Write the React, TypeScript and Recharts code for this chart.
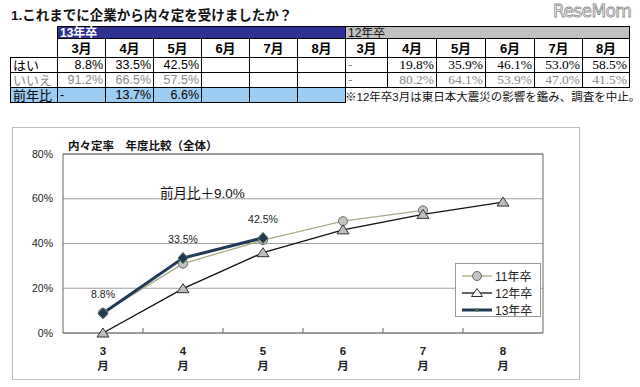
import React from 'react';
import {
  LineChart,
  Line,
  XAxis,
  YAxis,
  CartesianGrid,
  LabelList,
  Legend,
  ReferenceLine,
} from 'recharts';

// chart data (percent)
const months = ['3', '4', '5', '6', '7', '8'];
const rate11 = [9.0, 31.0, 41.5, 50.0, 54.8, null];
const rate12 = [0, 19.8, 35.9, 46.1, 53.0, 58.5];
const rate13 = [8.8, 33.5, 42.5, null, null, null];
const yTicks = [0, 20, 40, 60, 80];

// table
const tableMonths = ['3月', '4月', '5月', '6月', '7月', '8月'];
const yes13 = ['8.8%', '33.5%', '42.5%', '', '', ''];
const no13 = ['91.2%', '66.5%', '57.5%', '', '', ''];
const yoy13 = ['-', '13.7%', '6.6%', '', '', ''];
const yes12 = ['-', '19.8%', '35.9%', '46.1%', '53.0%', '58.5%'];
const no12 = ['-', '80.2%', '64.1%', '53.9%', '47.0%', '41.5%'];

const data = months.map((m, i) => ({
  m,
  y11: rate11[i],
  y12: rate12[i],
  y13: rate13[i],
}));

const SANS = "'Liberation Sans', Arial, 'Noto Sans CJK JP', sans-serif";
const NARROW = "'Liberation Sans Narrow', 'Liberation Sans', 'Noto Sans CJK JP', sans-serif";
const SERIF = "'Liberation Serif', 'Times New Roman', 'Noto Sans CJK JP', serif";
const STEP = 80;
const PLOT_H = 179;

const col13 = [57, 105, 153, 201, 249, 297];
const col12 = [345, 387, 436, 485, 534, 582];
const w12 = [42, 49, 49, 49, 48, 47];

function Cell({ x, y, w, h, children, align = 'center', style = {} }: any) {
  return (
    <div
      style={{
        position: 'absolute',
        left: x,
        top: y,
        width: w + 1,
        height: h + 1,
        boxSizing: 'border-box',
        border: '1px solid #000',
        display: 'flex',
        alignItems: 'center',
        justifyContent: align === 'right' ? 'flex-end' : align === 'left' ? 'flex-start' : 'center',
        padding: '0 2px',
        whiteSpace: 'nowrap',
        lineHeight: 1,
        ...style,
      }}
    >
      {children}
    </div>
  );
}

function CircleDot(props: any) {
  const { cx, cy } = props;
  if (cx == null || cy == null) return <g />;
  return <circle cx={cx} cy={cy} r={4.5} fill="#c4c4c4" stroke="#666" strokeWidth={1} />;
}

function TriangleDot(props: any) {
  const { cx, cy } = props;
  if (cx == null || cy == null) return <g />;
  return (
    <path
      d={`M${cx},${cy - 5}L${cx - 6},${cy + 4}L${cx + 6},${cy + 4}Z`}
      fill="#bdbdbd"
      stroke="#333"
      strokeWidth={1}
    />
  );
}

function DiamondDot(props: any) {
  const { cx, cy } = props;
  if (cx == null || cy == null) return <g />;
  return (
    <path
      d={`M${cx},${cy - 5.5}L${cx + 5},${cy}L${cx},${cy + 5.5}L${cx - 5},${cy}Z`}
      fill="#1f3a52"
      stroke="#4a6a50"
      strokeWidth={1}
    />
  );
}

function MonthTick(props: any) {
  const { x, y, payload } = props;
  const idx = months.indexOf(String(payload.value));
  const isLast = idx === months.length - 1;
  const edge = x + STEP / 2;
  return (
    <g>
      <text x={x} y={y + 22} textAnchor="middle" fontSize={11.5} fontWeight="bold" fill="#222" fontFamily={SANS}>
        {payload.value}
      </text>
      <text x={x} y={y + 37} textAnchor="middle" fontSize={11.5} fontWeight="bold" fill="#222" fontFamily={SANS}>
        月
      </text>
      {/* small tick between months; after the last month it becomes the plot frame's right side */}
      <line x1={edge} x2={edge} y1={y} y2={y - (isLast ? PLOT_H : 5)} stroke="#666" />
    </g>
  );
}

function LegendIcon({ kind, color }: { kind: string; color: string }) {
  const cx = 15;
  const cy = 6;
  return (
    <svg width={30} height={12} style={{ flex: 'none' }}>
      <line x1={0} x2={30} y1={cy} y2={cy} stroke={color} strokeWidth={kind === 'y13' ? 3 : 1.3} />
      {kind === 'y11' && <circle cx={cx} cy={cy} r={4.5} fill="#c4c4c4" stroke="#666" />}
      {kind === 'y12' && (
        <path d={`M${cx},${cy - 4.5}L${cx - 5.5},${cy + 3.5}L${cx + 5.5},${cy + 3.5}Z`} fill="#fff" stroke="#333" />
      )}
      {kind === 'y13' && <circle cx={cx} cy={cy} r={1.8} fill="#4a6a50" />}
    </svg>
  );
}

function LegendBox(props: any) {
  const { payload = [] } = props;
  return (
    <div
      style={{
        width: 86,
        height: 54,
        boxSizing: 'border-box',
        border: '1px solid #999',
        background: '#fff',
        padding: '3px 0 0 6px',
      }}
    >
      {payload.map((p: any) => (
        <div key={p.value} style={{ display: 'flex', alignItems: 'center', height: 17, gap: 3 }}>
          <LegendIcon kind={p.dataKey} color={p.color} />
          <span style={{ fontSize: 12, fontFamily: SANS, color: '#222' }}>{p.value}</span>
        </div>
      ))}
    </div>
  );
}

export default function App() {
  return (
    <div
      style={{
        position: 'absolute',
        left: 0,
        top: 0,
        width: 640,
        height: 387,
        background: '#fff',
        overflow: 'hidden',
        fontFamily: SANS,
      }}
    >
      {/* watermark */}
      <div
        style={{
          position: 'absolute',
          left: 553,
          top: 1,
          fontSize: 17,
          fontFamily: "'DejaVu Sans', sans-serif",
          color: '#fff',
          WebkitTextStroke: '0.8px #8a8a8a',
          letterSpacing: -0.6,
          whiteSpace: 'nowrap',
        }}
      >
        ReseMom
      </div>

      {/* question */}
      <div style={{ position: 'absolute', left: 11, top: 4, fontSize: 13.5, fontWeight: 'bold', color: '#111' }}>
        1.これまでに企業から内々定を受けましたか？
      </div>

      {/* 13年卒 block */}
      <Cell x={57} y={26} w={288} h={12} align="left" style={{ background: '#2e3192', color: '#fff', fontWeight: 'bold', fontSize: 12 }}>
        13年卒
      </Cell>
      {tableMonths.map((t, i) => (
        <Cell key={'m13' + i} x={col13[i]} y={38} w={48} h={19} style={{ fontSize: 13, fontWeight: 'bold' }}>
          {t}
        </Cell>
      ))}
      <Cell x={10} y={57} w={47} h={15} align="left" style={{ fontSize: 13 }}>はい</Cell>
      <Cell x={10} y={72} w={47} h={15} align="left" style={{ fontSize: 13, color: '#8a8a8a' }}>いいえ</Cell>
      <Cell x={10} y={87} w={47} h={15} align="left" style={{ fontSize: 13, background: '#9dccf2' }}>前年比</Cell>
      {yes13.map((v, i) => (
        <Cell key={'y13' + i} x={col13[i]} y={57} w={48} h={15} align="right" style={{ fontSize: 12.5, fontFamily: NARROW }}>
          {v}
        </Cell>
      ))}
      {no13.map((v, i) => (
        <Cell key={'n13' + i} x={col13[i]} y={72} w={48} h={15} align="right" style={{ fontSize: 12.5, fontFamily: NARROW, color: '#8a8a8a' }}>
          {v}
        </Cell>
      ))}
      {yoy13.map((v, i) => (
        <Cell
          key={'r13' + i}
          x={col13[i]}
          y={87}
          w={48}
          h={15}
          align={v === '-' ? 'left' : 'right'}
          style={{ fontSize: 12.5, fontFamily: NARROW, background: '#9dccf2' }}
        >
          {v}
        </Cell>
      ))}

      {/* 12年卒 block */}
      <Cell x={345} y={26} w={284} h={12} align="left" style={{ background: '#c0c0c0', color: '#111', fontSize: 12 }}>
        12年卒
      </Cell>
      {tableMonths.map((t, i) => (
        <Cell key={'m12' + i} x={col12[i]} y={38} w={w12[i]} h={19} style={{ fontSize: 13, fontWeight: 'bold' }}>
          {t}
        </Cell>
      ))}
      {yes12.map((v, i) => (
        <Cell
          key={'y12' + i}
          x={col12[i]}
          y={57}
          w={w12[i]}
          h={15}
          align={v === '-' ? 'left' : 'right'}
          style={{ fontSize: 13.5, fontFamily: SERIF, color: v === '-' ? '#888' : '#000' }}
        >
          {v}
        </Cell>
      ))}
      {no12.map((v, i) => (
        <Cell
          key={'n12' + i}
          x={col12[i]}
          y={72}
          w={w12[i]}
          h={15}
          align={v === '-' ? 'left' : 'right'}
          style={{ fontSize: 13.5, fontFamily: SERIF, color: '#8a8a8a' }}
        >
          {v}
        </Cell>
      ))}
      <div style={{ position: 'absolute', left: 345, top: 88, fontSize: 11.5, color: '#111', whiteSpace: 'nowrap' }}>
        ※12年卒3月は東日本大震災の影響を鑑み、調査を中止。
      </div>

      {/* chart frame */}
      <div
        style={{
          position: 'absolute',
          left: 12,
          top: 127,
          width: 568,
          height: 253,
          boxSizing: 'border-box',
          border: '1px solid #bdbdbd',
        }}
      />
      <div style={{ position: 'absolute', left: 68, top: 137, fontSize: 11.5, fontWeight: 'bold', color: '#111' }}>
        内々定率　年度比較（全体）
      </div>

      <div style={{ position: 'absolute', left: 0, top: 120 }}>
        <LineChart width={600} height={267} data={data} margin={{ top: 34, right: 57, left: 12, bottom: 14 }}>
          <CartesianGrid vertical={false} stroke="#a0a0a0" />
          <XAxis
            dataKey="m"
            height={40}
            padding={{ left: 40, right: 40 }}
            axisLine={{ stroke: '#666' }}
            tickLine={false}
            tickSize={0}
            tickMargin={0}
            interval={0}
            tick={<MonthTick />}
          />
          <YAxis
            width={51}
            domain={[0, 80]}
            ticks={yTicks}
            axisLine={{ stroke: '#666' }}
            tickLine={false}
            tickMargin={4}
            tick={{ fill: '#222', fontSize: 10.5, fontFamily: SANS }}
            tickFormatter={(v) => `${v}%`}
          />
          <ReferenceLine y={80} stroke="#666" />
          <Legend
            layout="vertical"
            align="center"
            verticalAlign="middle"
            wrapperStyle={{ left: 455, top: 143, width: 86 }}
            content={<LegendBox />}
          />
          <Line
            dataKey="y11"
            name="11年卒"
            stroke="#a9ad86"
            strokeWidth={1.3}
            dot={<CircleDot />}
            isAnimationActive={false}
          />
          <Line
            dataKey="y12"
            name="12年卒"
            stroke="#111"
            strokeWidth={1.4}
            dot={<TriangleDot />}
            isAnimationActive={false}
          />
          <Line
            dataKey="y13"
            name="13年卒"
            stroke="#203a55"
            strokeWidth={3}
            dot={<DiamondDot />}
            isAnimationActive={false}
          >
            <LabelList
              dataKey="y13"
              position="top"
              offset={15}
              fill="#222"
              fontSize={10.5}
              fontFamily={SANS}
              formatter={(v: any) => `${v}%`}
            />
          </Line>
        </LineChart>
      </div>

      <div style={{ position: 'absolute', left: 160, top: 182, fontSize: 13.5, color: '#111' }}>
        前月比＋9.0%
      </div>
    </div>
  );
}
